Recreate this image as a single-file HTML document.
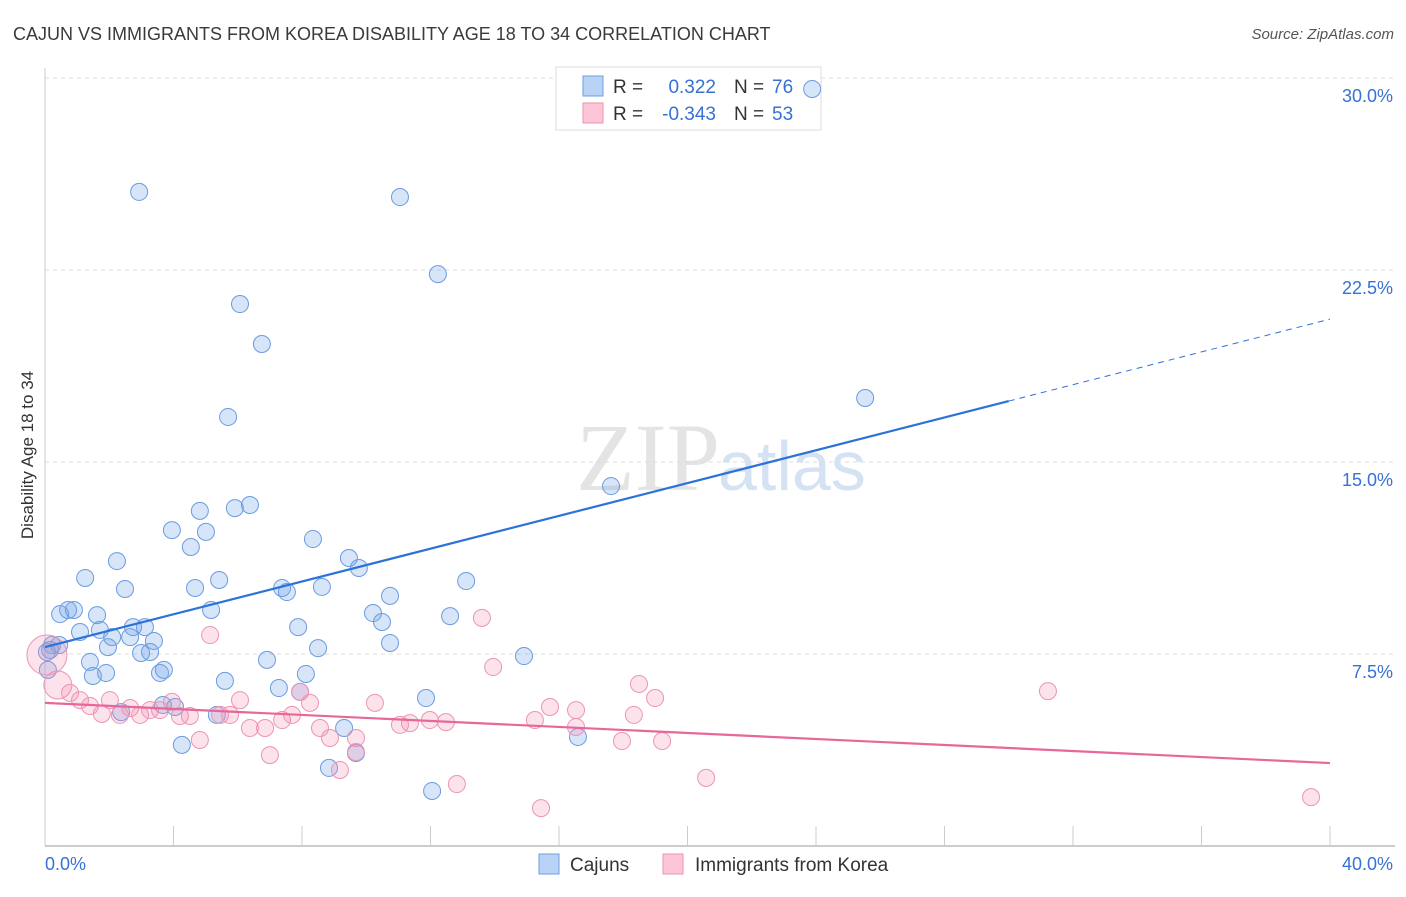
<!DOCTYPE html>
<html><head><meta charset="utf-8"><style>
body{margin:0;background:#fff;font-family:"Liberation Sans",sans-serif;}
</style></head><body>
<svg width="1406" height="892" xmlns="http://www.w3.org/2000/svg" id="chart" font-family="Liberation Sans, sans-serif">
<text x="13" y="40" font-size="18" fill="#3a3a3a">CAJUN VS IMMIGRANTS FROM KOREA DISABILITY AGE 18 TO 34 CORRELATION CHART</text>
<text x="1394" y="39" font-size="15" fill="#555" text-anchor="end" font-style="italic">Source: ZipAtlas.com</text>
<text x="720" y="490" font-size="96" fill="#e4e4e4" text-anchor="end" font-family="Liberation Serif, serif">ZIP</text>
<text x="718" y="490" font-size="70" fill="#d4e2f4">atlas</text>
<text transform="translate(33,455) rotate(-90)" font-size="17" fill="#333" text-anchor="middle">Disability Age 18 to 34</text>
<g id="grid"></g>
<g>
<rect x="556" y="67" width="265" height="63" fill="#fff" stroke="#ddd"/>
<rect x="583" y="76" width="20" height="20" fill="#b8d3f5" stroke="#6e9fe0"/>
<rect x="583" y="103" width="20" height="20" fill="#fcc6d6" stroke="#eb95b0"/>
<text x="613" y="93" font-size="19" fill="#333">R =</text>
<text x="716" y="93" font-size="19" fill="#3671d4" text-anchor="end">0.322</text>
<text x="734" y="93" font-size="19" fill="#333">N =</text>
<text x="772" y="93" font-size="19" fill="#3671d4">76</text>
<text x="613" y="120" font-size="19" fill="#333">R =</text>
<text x="716" y="120" font-size="19" fill="#3671d4" text-anchor="end">-0.343</text>
<text x="734" y="120" font-size="19" fill="#333">N =</text>
<text x="772" y="120" font-size="19" fill="#3671d4">53</text>
</g>
<g id="marks"></g>
<g>
<rect x="539" y="854" width="20" height="20" fill="#b8d3f5" stroke="#6e9fe0"/>
<text x="570" y="871" font-size="19" fill="#333">Cajuns</text>
<rect x="663" y="854" width="20" height="20" fill="#fcc6d6" stroke="#eb95b0"/>
<text x="695" y="871" font-size="19" fill="#333">Immigrants from Korea</text>
</g>
</svg>
<script>
const blueX=[2.93,11.05,12.23,6.07,6.75,5.70,25.53,17.62,23.88,5.91,6.38,4.82,3.95,5.01,4.54,8.34,9.46,9.77,2.24,1.25,5.42,13.11,2.49,4.67,7.38,7.53,8.62,10.74,0.47,0.72,0.90,1.62,5.17,10.21,10.49,12.61,7.88,3.11,1.09,1.71,2.65,2.09,3.39,2.74,1.96,0.44,0.16,2.99,3.27,8.50,10.74,14.91,1.40,6.91,3.58,3.70,1.49,1.90,8.12,0.09,5.60,7.28,7.94,11.86,3.67,4.05,2.37,5.35,9.31,4.26,16.59,9.68,8.84,12.05,0.06,0.22];
const blueY=[25.55,25.35,22.34,21.17,19.61,16.76,17.50,14.06,29.57,13.20,13.32,13.09,12.34,12.27,11.68,11.99,11.25,10.86,11.13,10.47,10.39,10.35,10.04,10.08,10.08,9.92,10.12,9.77,9.06,9.22,9.22,9.02,9.22,9.10,8.75,8.98,8.55,8.55,8.36,8.44,8.16,8.16,8.01,8.55,7.77,7.85,7.66,7.54,7.58,7.73,7.93,7.42,7.19,7.27,6.76,6.88,6.64,6.76,6.72,6.88,6.45,6.17,6.02,5.78,5.51,5.43,5.23,5.12,4.61,3.95,4.26,3.63,3.05,2.15,7.58,7.85];
const pinkX=[0.06,0.40,0.78,1.09,1.40,1.77,2.02,2.33,2.65,2.96,3.27,3.58,3.95,4.20,4.51,4.82,5.14,5.45,5.76,6.07,6.38,6.85,7.00,7.38,7.69,7.94,8.25,8.56,8.87,9.18,9.68,9.68,10.27,11.05,11.36,11.98,12.48,12.82,13.60,13.95,15.25,15.44,15.72,16.53,16.53,17.96,18.33,18.49,18.99,19.21,20.58,31.22,39.41];
const pinkY=[7.46,6.29,5.98,5.70,5.47,5.16,5.70,5.12,5.39,5.12,5.31,5.31,5.63,5.08,5.08,4.14,8.24,5.12,5.12,5.70,4.61,4.61,3.55,4.92,5.12,6.02,5.59,4.61,4.22,2.97,4.22,3.67,5.59,4.73,4.80,4.92,4.84,2.42,8.91,6.99,4.92,1.48,5.43,5.31,4.65,4.10,5.12,6.33,5.78,4.10,2.66,6.05,1.91];
const blueTrend=[7.77,17.38,20.58]; // y at x=0,30,40
const pinkTrend=[5.59,3.24]; // y at x=0,40
const yTicks=[7.5,15,22.5,30];
const yTickLabels=["7.5%","15.0%","22.5%","30.0%"];
const xTicks=[0,4,8,12,16,20,24,28,32,36,40];
const NS="http://www.w3.org/2000/svg";
const sx=v=>45+v*32.125, sy=v=>846-v*25.6;
function mk(t,a,p){const e=document.createElementNS(NS,t);for(const k in a)e.setAttribute(k,a[k]);p.appendChild(e);return e;}
const grid=document.getElementById('grid'),marks=document.getElementById('marks');
yTicks.forEach((t,i)=>{
 const l=mk('line',{x1:45,x2:1395,y1:sy(t),y2:sy(t),stroke:'#ddd','stroke-dasharray':'4,4'},grid);
 
 
 const tx=mk('text',{x:1393,y:sy(t)+24,'font-size':18,fill:'#3671d4','text-anchor':'end'},grid);
 tx.textContent=yTickLabels[i];
 
 
});
const ax=mk('line',{x1:45,x2:1395,y1:846,y2:846,stroke:'#bbb','stroke-width':1.5},grid);


const ay=mk('line',{x1:45,x2:45,y1:68,y2:846,stroke:'#ccc'},grid);


xTicks.forEach(t=>{
 const l=mk('line',{x1:sx(t),x2:sx(t),y1:826,y2:846,stroke:'#ccc'},grid);
 
 
});
[[0,'0.0%','start',45],[40,'40.0%','end',1393]].forEach(d=>{
 const tx=mk('text',{x:d[3],y:870,'font-size':18,fill:'#3671d4','text-anchor':d[2]},grid);
 tx.textContent=d[1];
 
 
});
blueX.forEach((x,i)=>{
 const c=mk('circle',{cx:sx(x),cy:sy(blueY[i]),r:8.5,fill:'rgba(110,160,230,0.28)',stroke:'#6b9be0','stroke-width':1},marks);
 
 
});
pinkX.forEach((x,i)=>{
 const r=i==0?20:(i==1?14:8.5);
 const c=mk('circle',{cx:sx(x),cy:sy(pinkY[i]),r:r,fill:'rgba(242,140,175,0.25)',stroke:'#ec95b2','stroke-width':1},marks);
 
 
});
const bl=mk('line',{x1:sx(0),y1:sy(blueTrend[0]),x2:sx(30),y2:sy(blueTrend[1]),stroke:'#2d72d9','stroke-width':2.2},marks);


const bd=mk('line',{x1:sx(30),y1:sy(blueTrend[1]),x2:sx(40),y2:sy(blueTrend[2]),stroke:'#2d72d9','stroke-width':1,'stroke-dasharray':'6,5'},marks);


const pl=mk('line',{x1:sx(0),y1:sy(pinkTrend[0]),x2:sx(40),y2:sy(pinkTrend[1]),stroke:'#e8679a','stroke-width':2.2},marks);


</script>
</body></html>
